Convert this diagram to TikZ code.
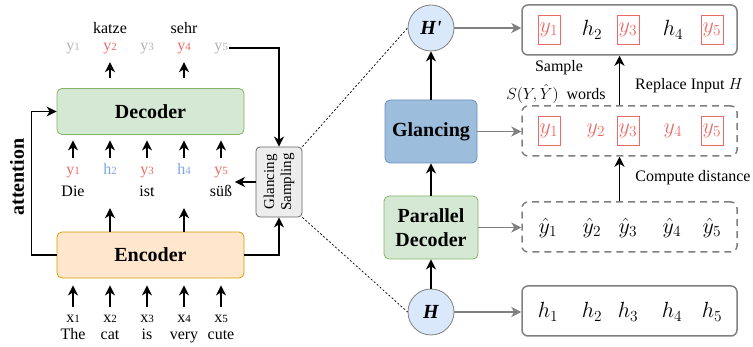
\RequirePackage{fix-cm}
\documentclass[tikz,border=0pt]{standalone}
\usepackage{amsmath,amssymb}
\usepackage{fontspec}
\setmainfont{Liberation Serif}
\usepackage{tikz}
\usetikzlibrary{arrows.meta,positioning}
\usepackage{xcolor}
\definecolor{tokred}{HTML}{EA6B66}
\definecolor{tokgray}{HTML}{B3B3B3}
\definecolor{tokblue}{HTML}{7EA6E0}
\definecolor{decfill}{HTML}{D5E8D4}
\definecolor{decline}{HTML}{82B366}
\definecolor{encfill}{HTML}{FFE6CC}
\definecolor{encline}{HTML}{D79B00}
\definecolor{hfill}{HTML}{DAE8FC}
\definecolor{glfill}{HTML}{9DBDDD}
\definecolor{glline}{HTML}{6C8EBF}
\definecolor{boxgray}{HTML}{808080}
\newcommand{\pxsize}[2]{\fontsize{#1}{#2}\selectfont}

\begin{document}
\begin{tikzpicture}[x=1pt, y=-1pt,
    blk/.style={line width=1.6pt, -{Stealth[length=10pt,width=10pt,inset=3pt]}},
    garr/.style={line width=1.5pt, draw=boxgray, -{Stealth[length=10pt,width=10pt,inset=3pt]}},
    dotline/.style={line width=0.7pt, dash pattern=on 2pt off 2pt},
    block/.style={draw, rounded corners=5pt, line width=0.8pt, align=center,
        font=\pxsize{20}{24}\bfseries},
    dec/.style={block, fill=decfill, draw=decline},
    enc/.style={block, fill=encfill, draw=encline},
    circ/.style={circle, minimum size=46pt, inner sep=0pt, fill=hfill, draw=gray,
        line width=0.8pt, font=\pxsize{20}{24}\bfseries\itshape},
    tok/.style={inner sep=1pt, text height=8pt, text depth=3pt, font=\pxsize{16}{18}},
    word/.style={inner sep=1pt, text height=10pt, text depth=3pt, font=\pxsize{16}{18}},
    note/.style={inner sep=1pt, font=\pxsize{16}{18}},
    rbox/.style={draw=boxgray, line width=1.5pt, rounded corners=6pt,
        minimum width=215pt, minimum height=50pt},
    hit/.style={text=tokred, draw=tokred, line width=0.8pt, inner sep=0pt,
        minimum width=22pt, minimum height=29pt, font=\pxsize{22}{24}},
    hid/.style={inner sep=0pt, font=\pxsize{22}{24}}]
    \useasboundingbox (0,0) rectangle (753,347);

    % encoder / decoder side
    \node[dec, minimum width=187pt, minimum height=46pt] (dec) at (150.5,111.5) {Decoder};
    \node[enc, minimum width=187pt, minimum height=46pt] (enc) at (150.5,255) {Encoder};

    \foreach \c [count=\i] in {tokgray,tokred,tokgray,tokred,tokgray}
        \node[tok, text=\c] (t\i) at ({36+37*\i},48) {y{\pxsize{11}{12}\i}};
    \node[word] (k2) at (110,30) {katze};
    \node[word] (k4) at (184,30) {sehr};

    \foreach \c/\v [count=\i] in {tokred/y,tokblue/h,tokred/y,tokblue/h,tokred/y}
        \node[tok, text=\c] (m\i) at ({36+37*\i},172) {\v{\pxsize{11}{12}\i}};
    \node[word] (w1) at (73,193) {Die};
    \node[word] (w3) at (147,193) {ist};
    \node[word] (w5) at (221,193) {süß};

    \foreach \w [count=\i] in {The,cat,is,very,cute} {
        \node[tok] (s\i) at ({36+37*\i},320) {x{\pxsize{11}{12}\i}};
        \node[word] (e\i) at ({36+37*\i},336) {\w};
    }

    \foreach \i in {2,4}
        \draw[blk, shorten <=10.5pt, shorten >=7.5pt] (dec.north -| t\i) -- (t\i.south);
    \foreach \i in {1,...,5}
        \draw[blk, shorten <=7.5pt, shorten >=5.5pt] (m\i.north) -- (m\i |- dec.south);
    \foreach \i in {2,4}
        \draw[blk, shorten >=29.5pt] (enc.north -| m\i) -- (m\i.south);
    \foreach \i in {1,...,5}
        \draw[blk, shorten <=6.5pt, shorten >=7pt] (s\i.north) -- (s\i |- enc.south);

    % attention
    \draw[blk] (enc.west) -- ++(-25,0) |- (dec.west);
    \node[rotate=90, font=\pxsize{20}{24}\bfseries] (att) at (17,177) {attention};

    % glat side
    \node[circ] (Hp) at (431,28) {H\textquotesingle};
    \node[block, fill=glfill, draw=glline, minimum width=92pt, minimum height=63pt] (gl) at (431,131.5) {Glancing};
    \node[dec, minimum width=94pt, minimum height=63pt] (pd) at (431,227.5) {Parallel\\Decoder};
    \node[circ] (H) at (431,312) {H};
    \draw[blk] (gl.north) -- (Hp.south);
    \draw[blk] (pd.north) -- (gl.south);
    \draw[blk] (H.north) -- (pd.south);

    % glancing sampling
    \node[draw=black!60, fill=black!7, rounded corners=4pt, line width=0.8pt, rotate=90,
        minimum width=70pt, minimum height=46pt, inner sep=1pt, align=center,
        font=\pxsize{15}{17}] (gs) at (279,182) {Glancing\\Sampling};
    \draw[blk] (t5.east) -| (gs.east);
    \draw[blk] (enc.east) -| (gs.west);
    \draw[blk, shorten >=6pt] (gs.north) -- (gs.north -| m5.east);
    \draw[dotline] (gs.south east) -- (Hp.west);
    \draw[dotline] (gs.south west) -- (H.west);

    \node[rbox] (r1) at (629.5,30) {};
    \node[rbox, dash pattern=on 7pt off 5pt] (r2) at (629.5,131) {};
    \node[rbox, dash pattern=on 7pt off 5pt] (r3) at (629.5,227) {};
    \node[rbox] (r4) at (629.5,311) {};

    \foreach \x/\s/\v [count=\i] in {549/hit/y,592/hid/h,628/hit/y,673/hid/h,712/hit/y}
        \node[\s] (a\i) at (\x,30) {$\v_{\i}$};
    \foreach \x/\s [count=\i] in {549/hit,596/hid,628/hit,673/hid,712/hit}
        \node[\s, text=tokred] (b\i) at (\x,131) {$y_{\i}$};
    \foreach \x [count=\i] in {548,592,628,672,712} {
        \node[hid] (c\i) at (\x,228) {$\hat{y}_{\i}$};
        \node[hid] (d\i) at (\x,312) {$h_{\i}$};
    }

    \draw[garr] (Hp.east) -- (Hp.east -| r1.west);
    \draw[garr] (gl.east) -- (gl.east -| r2.west);
    \draw[garr] (pd.east) -- (pd.east -| r3.west);
    \draw[garr] (H.east) -- (H.east -| r4.west);

    \draw[blk] ([xshift=-10pt]r2.north) -- ([xshift=-10pt]r1.south);
    \draw[blk] ([xshift=-10pt]r3.north) -- ([xshift=-10pt]r2.south);
    \node[note] (smp) at (559,68) {Sample};
    \node[note] (swd) at (556,94) {$S(Y,\hat{Y})$\ \ words};
    \node[note] (rep) at (689,86) {Replace Input $H$};
    \node[note] (cmp) at (693,178) {Compute distance};
\end{tikzpicture}
\end{document}
